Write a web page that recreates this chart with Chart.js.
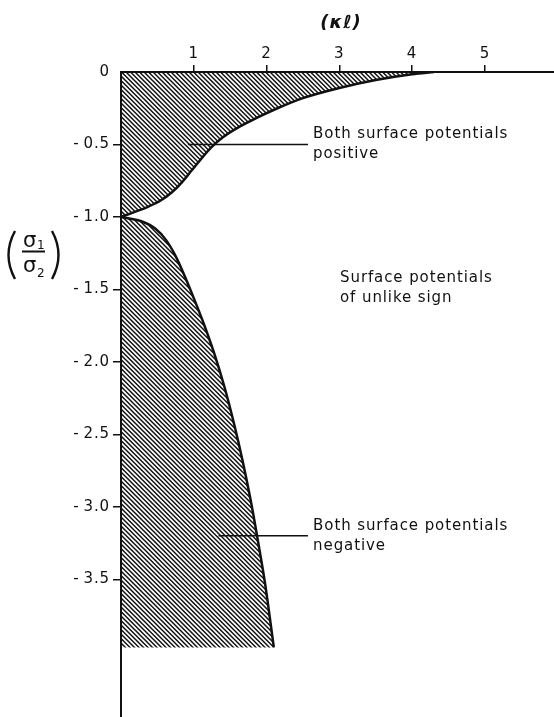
<!DOCTYPE html>
<html>
<head>
<meta charset="utf-8">
<title>Sign of surface potentials</title>
<script src="https://cdn.jsdelivr.net/npm/chart.js@4.4.1/dist/chart.umd.min.js"></script>
<style>
  html, body { margin: 0; padding: 0; background: #fff; }
  #wrap { position: relative; width: 554px; height: 717px; }
</style>
</head>
<body>
<div id="wrap"><canvas id="sigmaChart"></canvas></div>
<script>
// Boundary curves: x = kappa*l, y = sigma1/sigma2
const upperX = [0, 0.19, 0.37, 0.55, 0.70, 0.84, 0.97, 1.10, 1.24, 1.40, 1.60, 1.85, 2.15, 2.5, 3.0, 3.5, 4.0, 4.3];
const upperY = [-1.0, -0.965, -0.93, -0.885, -0.83, -0.76, -0.68, -0.60, -0.52, -0.45, -0.385, -0.32, -0.25, -0.18, -0.11, -0.055, -0.015, 0];
const lowerX = [0, 0.28, 0.47, 0.62, 0.74, 0.86, 1.0, 1.14, 1.28, 1.42, 1.55, 1.67, 1.78, 1.88, 1.98, 2.10];
const lowerY = [-1.0, -1.03, -1.08, -1.16, -1.26, -1.39, -1.56, -1.74, -1.94, -2.17, -2.42, -2.68, -2.95, -3.23, -3.53, -3.97];
const hatchFloor = -3.97;

const xTicks = [1, 2, 3, 4, 5];
const yTicks = [0, -0.5, -1.0, -1.5, -2.0, -2.5, -3.0, -3.5];

// leader lines from the hatched regions to their labels
const leaderY = [-0.5, -3.2];
const leaderFromX = [0.92, 1.34];
const leaderToX = [2.57, 2.57];

const regionLabels = [
  ['Both surface potentials', 'positive'],
  ['Surface potentials', 'of unlike sign'],
  ['Both surface potentials', 'negative']
];

(function () {
  const INK = '#111';
  const FONT = 'DejaVu Sans';
  // where each label block sits, in axis units (first line centre)
  const labelSpots = [
    { x: 2.64, y: -0.43 },
    { x: 3.01, y: -1.42 },
    { x: 2.64, y: -3.13 }
  ];

  function hatchPattern(ctx) {
    const s = 9;
    const c = document.createElement('canvas');
    c.width = s;
    c.height = s;
    const g = c.getContext('2d');
    g.strokeStyle = INK;
    g.lineWidth = 1.5;
    g.beginPath();
    for (let k = -2; k <= 2; k++) {
      const o = k * s / 2;
      g.moveTo(o - 2, -2);
      g.lineTo(o + s + 2, s + 2);
    }
    g.stroke();
    return ctx.createPattern(c, 'repeat');
  }

  const pts = (xs, ys) => xs.map((x, i) => ({ x, y: ys[i] }));

  const decor = {
    id: 'decor',
    beforeDraw(chart) {
      chart.ctx.letterSpacing = '0.9px';
    },
    afterDraw(chart) {
      const ctx = chart.ctx;
      const xs = chart.scales.x;
      const ys = chart.scales.y;
      ctx.save();
      ctx.fillStyle = INK;
      ctx.strokeStyle = INK;

      // region labels
      ctx.font = '15px "' + FONT + '"';
      ctx.textAlign = 'left';
      ctx.textBaseline = 'middle';
      regionLabels.forEach((lines, i) => {
        const px = xs.getPixelForValue(labelSpots[i].x);
        const py = ys.getPixelForValue(labelSpots[i].y);
        lines.forEach((t, j) => ctx.fillText(t, px, py + j * 20));
      });

      // top axis title (kappa l)
      ctx.font = 'bold italic 18px "' + FONT + '"';
      ctx.textAlign = 'center';
      ctx.fillText('(\u03ba\u2113)', 341, 23);

      // left axis title: (sigma1 / sigma2)
      ctx.letterSpacing = '0px';
      ctx.textAlign = 'left';
      ctx.textBaseline = 'alphabetic';
      ctx.font = '21px "' + FONT + '"';
      ctx.fillText('\u03c3', 23, 247);
      ctx.fillText('\u03c3', 23, 272);
      ctx.font = '12px "' + FONT + '"';
      ctx.fillText('1', 37, 249);
      ctx.fillText('2', 37, 277);
      ctx.lineWidth = 2;
      ctx.beginPath();
      ctx.moveTo(22, 251.5);
      ctx.lineTo(45, 251.5);
      ctx.stroke();
      ctx.lineWidth = 2.4;
      ctx.beginPath();
      ctx.moveTo(15, 231);
      ctx.quadraticCurveTo(2, 255, 15, 279);
      ctx.moveTo(52, 231);
      ctx.quadraticCurveTo(65, 255, 52, 279);
      ctx.stroke();
      ctx.restore();
    }
  };

  function init() {
    const Chart = window.Chart;
    const canvas = document.getElementById('sigmaChart');
    if (!Chart || !canvas) return;
    const ctx = canvas.getContext('2d');
    const hatch = hatchPattern(ctx);

    const datasets = [
      {
        data: pts(upperX, upperY),
        borderColor: INK,
        borderWidth: 2.5,
        backgroundColor: hatch,
        fill: 'end',
        cubicInterpolationMode: 'monotone',
        pointRadius: 0
      },
      {
        data: pts(lowerX, lowerY),
        borderColor: INK,
        borderWidth: 2.5,
        backgroundColor: hatch,
        fill: { value: hatchFloor },
        cubicInterpolationMode: 'monotone',
        pointRadius: 0
      }
    ];
    leaderY.forEach((y, i) => {
      datasets.push({
        data: [{ x: leaderFromX[i], y }, { x: leaderToX[i], y }],
        borderColor: INK,
        borderWidth: 1.6,
        fill: false,
        pointRadius: 0
      });
    });

    const tickColor = (c) => (c.tick && c.tick.value === 0 ? 'rgba(0,0,0,0)' : INK);

    // eslint-disable-next-line no-new
    new Chart(ctx, {
      type: 'line',
      data: { datasets },
      plugins: [decor],
      options: {
        responsive: true,
        maintainAspectRatio: false,
        animation: false,
        layout: { padding: 0 },
        plugins: {
          legend: { display: false },
          tooltip: { enabled: false }
        },
        scales: {
          x: {
            type: 'linear',
            position: 'top',
            min: 0,
            max: 5.95,
            afterBuildTicks: (s) => { s.ticks = xTicks.map((v) => ({ value: v })); },
            afterFit: (s) => { s.height = 72; s.paddingLeft = 0; s.paddingRight = 0; },
            ticks: {
              color: INK,
              padding: 2,
              maxRotation: 0,
              font: { family: FONT, size: 15 },
              callback: (v) => String(v)
            },
            grid: { drawOnChartArea: false, color: tickColor, lineWidth: 1.5, tickLength: 7 },
            border: { display: true, color: INK, width: 2 }
          },
          y: {
            type: 'linear',
            position: 'left',
            min: -4.45,
            max: 0,
            afterBuildTicks: (s) => { s.ticks = yTicks.map((v) => ({ value: v })); },
            afterFit: (s) => { s.width = 121; s.paddingTop = 0; s.paddingBottom = 0; },
            ticks: {
              color: INK,
              padding: 3,
              font: { family: FONT, size: 15 },
              callback: (v) => (v === 0 ? '0' : '-\u2009' + Math.abs(v).toFixed(1))
            },
            grid: { drawOnChartArea: false, color: tickColor, lineWidth: 1.5, tickLength: 8 },
            border: { display: true, color: INK, width: 2 }
          }
        }
      }
    });
  }

  if (document.readyState === 'loading') {
    document.addEventListener('DOMContentLoaded', init);
  } else {
    init();
  }
})();
</script>
</body>
</html>
